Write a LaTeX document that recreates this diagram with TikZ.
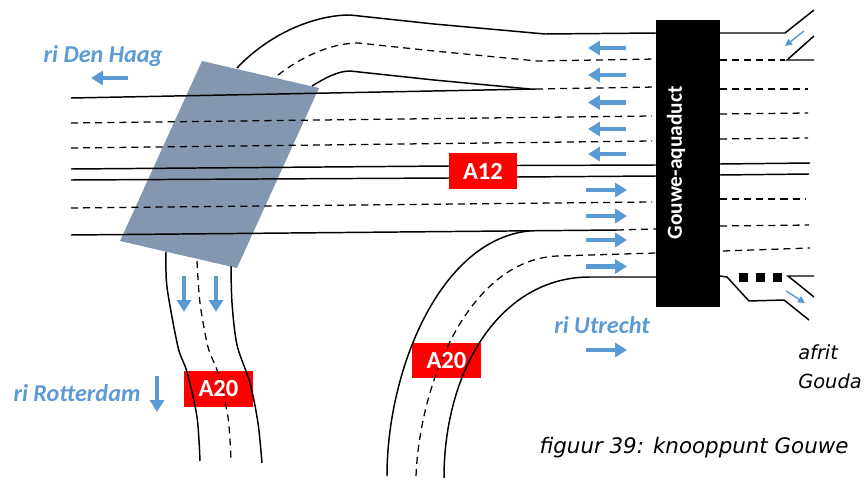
\documentclass[tikz,border=0pt]{standalone}
\usepackage{fontspec}
\setmainfont{Carlito}
\newfontfamily\capfont{DejaVu Sans}
\usetikzlibrary{arrows.meta}
\definecolor{flowblue}{HTML}{5B9BD5}
\definecolor{deckgray}{HTML}{8497B0}
\tikzset{
  road/.style={line width=1.05pt,black},
  lane/.style={line width=0.9pt,black,dash pattern=on 5pt off 3.6pt},
  flow/.style={line width=2.9pt,flowblue,-{Triangle[length=8.5pt,width=10pt]}},
  minorflow/.style={line width=1pt,flowblue,-{Triangle[length=5pt,width=5pt]}},
  sign/.style={fill=red,minimum width=49pt,minimum height=25.5pt,inner sep=0pt},
  signtext/.style={text=white,font=\bfseries\fontsize{17.5}{20}\selectfont,inner sep=0pt},
  dirlabel/.style={text=flowblue,font=\bfseries\itshape\fontsize{17.2}{20}\selectfont,inner sep=0pt},
  note/.style={font=\capfont\itshape\fontsize{13.8}{16}\selectfont,inner sep=0pt}
}
\begin{document}
\begin{tikzpicture}[x=0.025cm,y=-0.025cm]
        \useasboundingbox (0,0) rectangle (868,480);
        % sloped deck
        \fill[deckgray] (202,61)--(319,88)--(237,268)--(120,241)--cycle;
        \fill[black] (656,20) rectangle (720,307);
        \node[sign] (a12) at (483,171) {};
        \node[sign] (a20w) at (218.5,389) {};
        \node[sign] (a20e) at (446.5,360.5) {};
        % through lanes, west of the aquaduct
        \draw[road] (71,98)--(536,89);
        \draw[lane] (71,123)--(652,116);
        \draw[lane] (71,148)--(652,141);
        \draw[road] (71,169)--(449,166);
        \draw[road] (517,165.5)--(656,165);
        \draw[road] (71,180)--(449,178);
        \draw[road] (517,177)--(656,176);
        \draw[lane] (71,208)--(652,202);
        \draw[road] (71,235)--(617,230);
        \draw[lane] (617,230)--(656,229);
        \draw[lane] (536,89)--(656,87);
        % ramp going north-east
        \draw[road] (237,68) .. controls (270,33) and (315,15) .. (350,15) -- (434,24) -- (545,34) -- (656,33);
        \draw[lane] (278,75) .. controls (300,58) and (330,43) .. (358,43) -- (434,51) -- (537,61) -- (656,59);
        \draw[road] (312,86) .. controls (325,78) and (338,71) .. (350,71) -- (434,80) -- (530,89);
        % ramp going south, left
        \draw[road] plot[smooth] coordinates {(166,252) (167,287) (178,347) (187,372) (197,417) (200,461)};
        \draw[lane] plot[smooth] coordinates {(197,261) (200,303) (208,347) (218,373) (228,417) (231,460)};
        \draw[road] plot[smooth] coordinates {(231,266) (232,303) (237,345) (250,383) (258,423) (262,463)};
        % ramp coming from the south
        \draw[road] (387,476) .. controls (387,370) and (440,240) .. (529,231);
        \draw[lane] (416,476) .. controls (420,380) and (470,260) .. (557,256) -- (656,253);
        \draw[road] (444,478) .. controls (444,370) and (500,277) .. (590,277) -- (656,277);
        \node[signtext] (a12label) at (a12) {A12};
        \node[signtext] (a20wlabel) at (a20w) {A20};
        \node[signtext] (a20elabel) at (a20e) {A20};
        % east of the aquaduct
        \draw[road] (720,33)--(785,33)--(814,10);
        \draw[lane] (720,60)--(785,60);
        \draw[road] (814,36)--(787,60)--(814,60);
        \draw[lane] (720,89)--(808,89);
        \draw[lane] (720,114)--(808,113);
        \draw[lane] (720,139)--(808,138);
        \draw[road] (720,164)--(810,163);
        \draw[road] (720,175)--(809,174);
        \draw[lane] (720,199)--(806,199);
        \draw[lane] (720,226)--(809,225);
        \draw[lane] (723,251)--(810,248);
        \draw[road] (720,276)--(727,277)--(749,301)--(784,300)--(809,320);
        \draw[road] (814,276)--(788,276)--(814,297);
        \foreach \x in {739,756,773}
          \fill[black] (\x,273) rectangle ++(9,8.5);
        % driving directions
        \foreach \y in {48,75,102.5,129,154}
          \draw[flow] (626,\y)--(588,\y);
        \foreach \y in {190,216,240,266.5}
          \draw[flow] (586,\y)--(627,\y);
        \draw[flow] (586,350)--(627,350);
        \draw[flow] (128,78)--(91,78);
        \draw[flow] (184,276)--(184,312);
        \draw[flow] (216,276)--(216,312);
        \draw[flow] (157,376)--(157,412);
        \draw[minorflow] (804,31)--(785,46);
        \draw[minorflow] (786,291)--(805,303);
        % labels
        \node[dirlabel] (denhaag) at (103,56) {ri Den Haag};
        \node[dirlabel] (rotterdam) at (77,393) {ri Rotterdam};
        \node[dirlabel] (utrecht) at (602,325) {ri Utrecht};
        \node[rotate=90,text=white,font=\bfseries\fontsize{15.2}{18}\selectfont,inner sep=0pt] (aquaduct) at (676,163) {Gouwe-aquaduct};
        \node[note,anchor=base west] (afrit) at (798,359) {afrit};
        \node[note,anchor=base west] (gouda) at (798,388) {Gouda};
        \node[note,font=\capfont\itshape\fontsize{15.2}{18}\selectfont] (caption) at (694,448) {figuur 39: knooppunt Gouwe};
      \end{tikzpicture}
\end{document}
